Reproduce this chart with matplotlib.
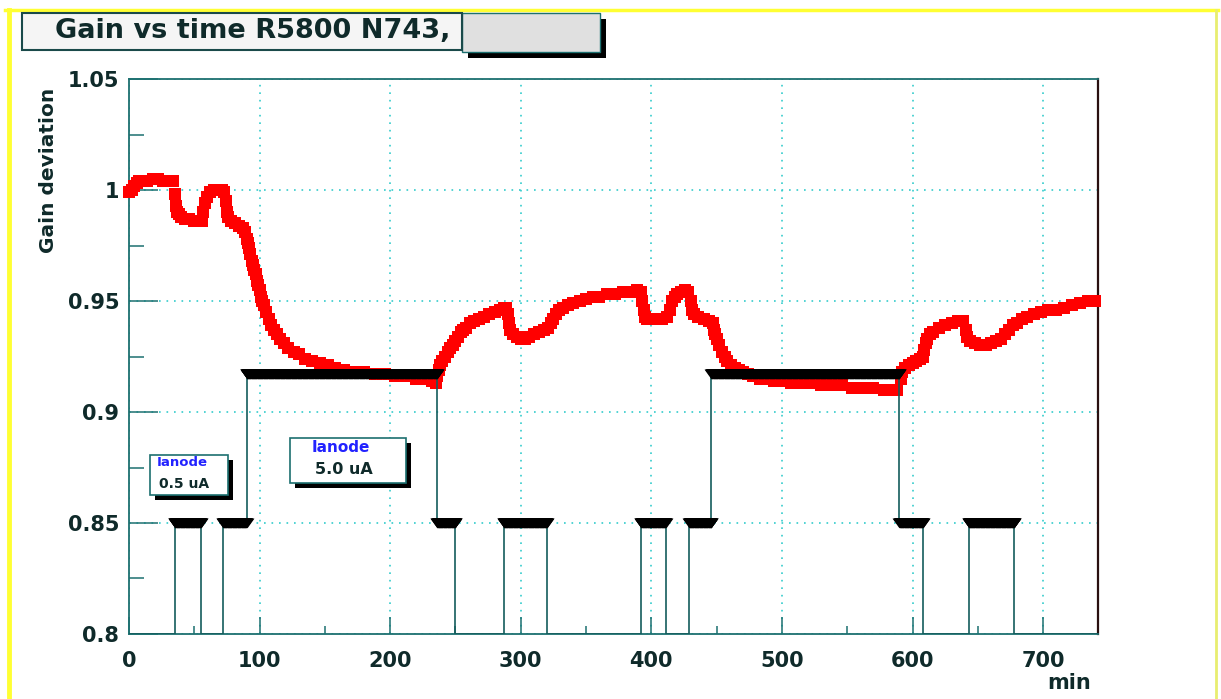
import numpy as np
import matplotlib
matplotlib.use("Agg")
import matplotlib.pyplot as plt
from matplotlib.patches import Rectangle
from matplotlib.lines import Line2D
from matplotlib.ticker import MultipleLocator, FuncFormatter

# ---- measured gain deviation vs time (minutes) ----
time_min = [
    0, 2, 4, 6, 8, 10, 14, 18, 22, 26, 30, 34,
    35, 36, 37, 38, 40, 43, 46, 50, 53, 56,
    57, 58, 60, 62, 65, 68, 71, 73,
    74, 75, 76, 78, 81, 84, 87, 89,
    90, 91, 92, 93, 94, 95, 96, 97, 98, 99, 100, 101, 102, 103, 105, 107, 109,
    111, 113, 116, 119, 122, 126, 130, 135, 140, 146, 152, 158, 165, 172, 180,
    188, 196, 204, 212, 220, 228, 232, 235,
    236, 237, 238, 240, 242, 244, 246, 248, 250, 252, 254, 256, 258, 261, 264,
    268, 272, 276, 280, 284, 287, 289,
    290, 291, 292, 294, 297, 300, 303, 306, 310, 314, 318, 321,
    323, 325, 327, 329, 332, 336, 340, 345, 350, 355, 360, 366, 372, 378, 384,
    389, 392,
    393, 394, 395, 397, 400, 404, 408, 412,
    414, 416, 418, 420, 423, 426, 428,
    430, 431, 433, 436, 440, 444, 447,
    448, 449, 450, 452, 454, 456, 458, 461, 464, 467, 470, 474, 478, 483, 488,
    494, 500, 507, 514, 522, 530, 538, 546, 554, 562, 570, 578, 584, 588,
    591, 592, 594, 597, 600, 603, 606, 608, 609, 610, 611, 613, 616, 620, 625,
    630, 635, 639,
    641, 642, 644, 648, 652, 656, 660, 664, 668,
    671, 674, 677, 680, 684, 688, 693, 698, 704, 710, 716, 722, 728, 734, 740,
]
gain = [
    0.999, 1.000, 1.002, 1.003, 1.004, 1.004, 1.004, 1.005, 1.005, 1.004, 1.004, 1.004,
    0.998, 0.993, 0.990, 0.989, 0.988, 0.987, 0.987, 0.986, 0.986, 0.986,
    0.990, 0.994, 0.997, 0.999, 1.000, 1.000, 1.000, 0.999,
    0.995, 0.990, 0.988, 0.986, 0.985, 0.984, 0.983, 0.981,
    0.978, 0.976, 0.974, 0.971, 0.968, 0.966, 0.964, 0.962, 0.959, 0.957, 0.955,
    0.952, 0.950, 0.948, 0.945, 0.942, 0.939,
    0.937, 0.935, 0.933, 0.931, 0.929, 0.927, 0.926, 0.924, 0.923, 0.922, 0.921,
    0.920, 0.919, 0.918, 0.918,
    0.917, 0.917, 0.916, 0.916, 0.915, 0.915, 0.914, 0.913,
    0.916, 0.919, 0.921, 0.923, 0.925, 0.927, 0.929, 0.930, 0.932, 0.934, 0.936,
    0.937, 0.938, 0.940, 0.941,
    0.942, 0.943, 0.944, 0.945, 0.946, 0.947, 0.947,
    0.944, 0.940, 0.937, 0.935, 0.934, 0.933, 0.933, 0.934, 0.935, 0.936, 0.937, 0.938,
    0.940, 0.942, 0.944, 0.946, 0.947, 0.948, 0.949, 0.950, 0.951, 0.952, 0.952,
    0.953, 0.953, 0.954, 0.954,
    0.955, 0.954,
    0.950, 0.946, 0.943, 0.942, 0.942, 0.942, 0.942, 0.943,
    0.946, 0.950, 0.952, 0.953, 0.954, 0.955, 0.954,
    0.950, 0.946, 0.944, 0.943, 0.942, 0.941, 0.940,
    0.937, 0.935, 0.933, 0.930, 0.927, 0.925, 0.923, 0.921, 0.920, 0.919, 0.918,
    0.917, 0.916, 0.915, 0.915,
    0.914, 0.914, 0.913, 0.913, 0.913, 0.912, 0.912, 0.912, 0.911, 0.911, 0.911,
    0.910, 0.910, 0.910,
    0.915, 0.918, 0.920, 0.921, 0.922, 0.923, 0.924, 0.925, 0.928, 0.931, 0.933,
    0.935, 0.936, 0.938, 0.939,
    0.940, 0.941, 0.941,
    0.937, 0.934, 0.932, 0.931, 0.930, 0.930, 0.931, 0.932, 0.933,
    0.935, 0.937, 0.939, 0.940, 0.942, 0.943, 0.944, 0.945, 0.946, 0.946, 0.947,
    0.948, 0.949, 0.950, 0.950,
]

# ---- anode current state: switching times and the level it is drawn at ----
current_t = [0, 35, 55, 72, 90, 236, 250, 287, 320, 392, 411, 429, 446,
             590, 608, 643, 678, 742]
current_level = [0.80, 0.85, 0.80, 0.85, 0.917, 0.85, 0.80, 0.85, 0.80,
                 0.85, 0.80, 0.85, 0.917, 0.85, 0.80, 0.85, 0.80, 0.80]

title = "Gain vs time R5800 N743,"
y_label = "Gain deviation"
x_unit = "min"
box_titles = ["Ianode", "Ianode"]
box_values = ["0.5 uA", "5.0 uA"]

W, H = 1221, 699
fig = plt.figure(figsize=(W / 100, H / 100), dpi=100)
fig.patch.set_facecolor("white")


def fx(px):
    return px / W


def fy(py):
    return 1 - py / H


TEAL = "#1c7070"
DARK = "#0f2a2a"
FONT = "DejaVu Sans"

ax = fig.add_axes([fx(129), fy(634), fx(1098) - fx(129), fy(79) - fy(634)])
ax.set_xlim(0, 742)
ax.set_ylim(0.8, 1.05)

# frame
for side in ("left", "bottom", "top"):
    ax.spines[side].set_color(TEAL)
    ax.spines[side].set_linewidth(1.3)
ax.spines["right"].set_color("#2a1010")
ax.spines["right"].set_linewidth(1.6)

# ticks
ax.xaxis.set_major_locator(MultipleLocator(100))
ax.xaxis.set_minor_locator(MultipleLocator(50))
ax.yaxis.set_major_locator(MultipleLocator(0.05))
ax.yaxis.set_minor_locator(MultipleLocator(0.025))
ax.yaxis.set_major_formatter(FuncFormatter(lambda v, p: f"{v:g}"))
ax.xaxis.set_major_formatter(FuncFormatter(lambda v, p: f"{v:g}"))
ax.tick_params(which="both", direction="in", color=TEAL, width=1.1,
               top=False, right=False, labelcolor=DARK)
ax.tick_params(axis="y", which="major", length=21, pad=7)
ax.tick_params(axis="y", which="minor", length=10.5)
ax.tick_params(axis="x", which="major", length=12, pad=12)
ax.tick_params(axis="x", which="minor", length=6)
for lab in ax.get_xticklabels() + ax.get_yticklabels():
    lab.set_fontfamily(FONT)
    lab.set_fontweight("bold")
    lab.set_fontsize(15)

ax.grid(which="major", color="#33cccc", linestyle=(0, (1, 3.5)), linewidth=1.2)
ax.set_axisbelow(True)

# gain measurements
ax.plot(time_min, gain, linestyle="none", marker="s", markersize=9,
        color="#ff0000", markeredgewidth=0, zorder=3, clip_on=False)

# anode current steps
ax.step(current_t, current_level, where="post", color="#145c5c",
        linewidth=1.2, zorder=4)

# periods with current on: solid bar with tapered inverted-triangle ends
tri = [(-1, 0.7), (1, 0.7), (0, -0.7), (-1, 0.7)]
for t0, t1, lv in zip(current_t[:-1], current_t[1:], current_level[:-1]):
    if lv > current_level[0]:
        ts = np.linspace(t0, t1, max(int((t1 - t0) * 5), 2))
        ax.plot(ts, [lv] * len(ts), linestyle="none", marker=tri, markersize=10,
                color="black", markeredgewidth=0, zorder=5)
        ax.plot([t0, t1], [lv, lv], color="black", linewidth=5,
                solid_capstyle="butt", zorder=5)


def box(x0, y0, x1, y1, face, edge, shadow=0, lw=1.2, z=10):
    if shadow:
        fig.add_artist(Rectangle((fx(x0 + shadow), fy(y1 + shadow)),
                                 fx(x1) - fx(x0), fy(y0) - fy(y1),
                                 transform=fig.transFigure, facecolor="black",
                                 edgecolor="none", zorder=z))
    fig.add_artist(Rectangle((fx(x0), fy(y1)), fx(x1) - fx(x0), fy(y0) - fy(y1),
                             transform=fig.transFigure, facecolor=face,
                             edgecolor=edge, linewidth=lw, zorder=z + 1))


# current annotation boxes
box(150, 455, 228, 495, "white", TEAL, shadow=5)
fig.text(fx(157), fy(463), box_titles[0], ha="left", va="center", color="#2222ff",
         fontfamily=FONT, fontweight="bold", fontsize=9.5, zorder=20)
fig.text(fx(184), fy(484), box_values[0], ha="center", va="center", color=DARK,
         fontfamily=FONT, fontweight="bold", fontsize=10, zorder=20)

box(290, 438, 406, 483, "white", TEAL, shadow=5)
fig.text(fx(341), fy(447), box_titles[1], ha="center", va="center", color="#2222ff",
         fontfamily=FONT, fontweight="bold", fontsize=11, zorder=20)
fig.text(fx(344), fy(469), box_values[1], ha="center", va="center", color=DARK,
         fontfamily=FONT, fontweight="bold", fontsize=11.5, zorder=20)

# title panel
box(462, 13, 600, 52, "#e0e0e0", TEAL, shadow=6, lw=1.0)
box(22, 13, 462, 50, "#f5f5f5", "#1a4a4a", lw=1.5)
fig.text(fx(55), fy(31), title, ha="left", va="center", color=DARK,
         fontfamily=FONT, fontweight="bold", fontsize=19.5, zorder=20)

# axis labels
fig.text(fx(49), fy(88), y_label, rotation=90, ha="center", va="top", color=DARK,
         fontfamily=FONT, fontweight="bold", fontsize=14.5)
fig.text(fx(1091), fy(689), x_unit, ha="right", va="baseline", color=DARK,
         fontfamily=FONT, fontweight="bold", fontsize=15)

# canvas border
fig.add_artist(Line2D([fx(5), fx(1218)], [fy(10), fy(10)], color="#ffff33",
                      linewidth=2.5, transform=fig.transFigure))
fig.add_artist(Line2D([fx(9), fx(9)], [fy(10), fy(699)], color="#ffff33",
                      linewidth=3.5, transform=fig.transFigure))
fig.add_artist(Line2D([fx(1216), fx(1216)], [fy(10), fy(699)], color="#e8ee70",
                      linewidth=2, transform=fig.transFigure))

fig.savefig("out.png", dpi=100)
